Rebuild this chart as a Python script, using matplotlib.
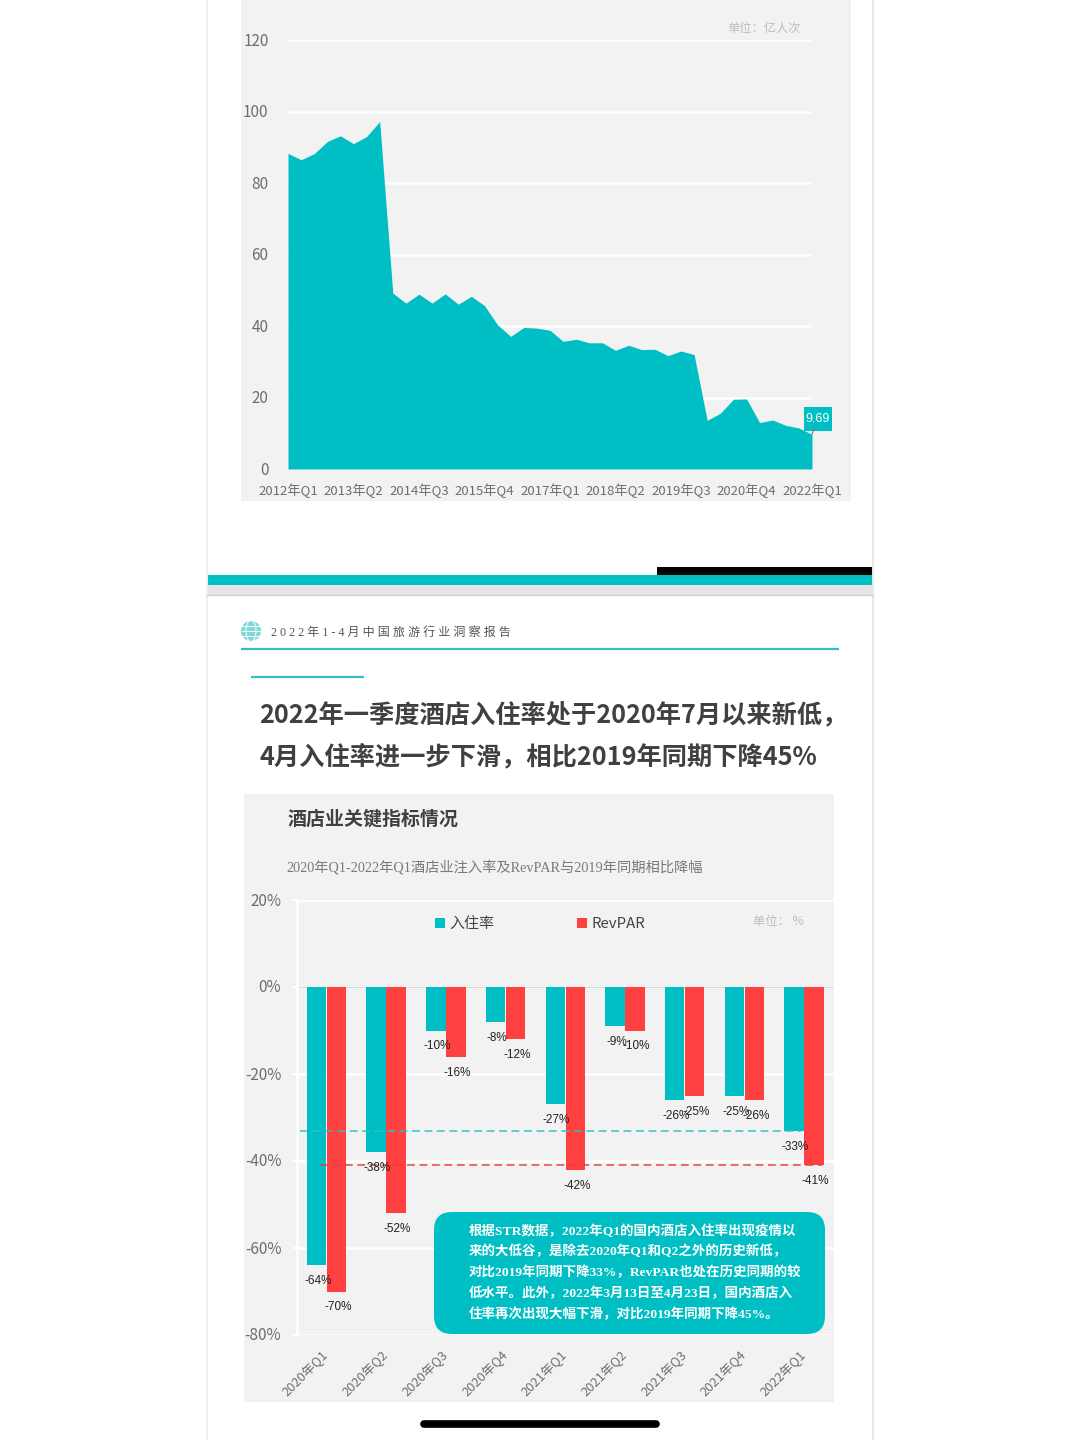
import matplotlib
matplotlib.use("Agg")
import matplotlib.pyplot as plt
from matplotlib.patches import Rectangle, FancyBboxPatch, Circle, Ellipse
from matplotlib.lines import Line2D
from matplotlib.transforms import ScaledTranslation

CJK = ["Noto Sans CJK SC", "DejaVu Sans"]
SERIF = ["Liberation Serif", "Noto Sans CJK SC"]
NARROW = ["Liberation Sans", "DejaVu Sans"]
plt.rcParams["font.family"] = CJK

TEAL = "#00bfc4"
RED = "#ff4040"
PANEL = "#f2f2f2"
GREY = "#6e6e6e"
DARK = "#404040"

# top chart: domestic trips, one value per quarter
years = [2012, 2013, 2014, 2015, 2016, 2017, 2018, 2019, 2020, 2021]
quarters = [f"{y}年Q{q}" for y in years for q in (1, 2, 3, 4)] + ["2022年Q1"]
trips = [88.3, 86.5, 88.2, 91.6, 93.2, 91.0, 93.0, 97.2, 49.2, 46.4, 48.9,
         46.4, 49.0, 46.1, 48.3, 45.7, 40.3, 37.1, 39.6, 39.4, 38.8, 35.7,
         36.3, 35.3, 35.3, 33.2, 34.6, 33.4, 33.5, 31.7, 33.0, 32.0, 13.6,
         15.6, 19.5, 19.6, 13.0, 13.7, 12.2, 11.5, 9.69]
trip_ticks = [0, 20, 40, 60, 80, 100, 120]

# bottom chart: hotel indicators against 2019
hotel_q = ["2020年Q1", "2020年Q2", "2020年Q3", "2020年Q4", "2021年Q1",
           "2021年Q2", "2021年Q3", "2021年Q4", "2022年Q1"]
occupancy = [-64, -38, -10, -8, -27, -9, -26, -25, -33]
revpar = [-70, -52, -16, -12, -42, -10, -25, -26, -41]
pct_ticks = [-80, -60, -40, -20, 0, 20]

callout_lines = [
    "根据STR数据，2022年Q1的国内酒店入住率出现疫情以",
    "来的大低谷，是除去2020年Q1和Q2之外的历史新低，",
    "对比2019年同期下降33%，RevPAR也处在历史同期的较",
    "低水平。此外，2022年3月13日至4月23日，国内酒店入",
    "住率再次出现大幅下滑，对比2019年同期下降45%。",
]


def px_axes(fig, left, top, right, bottom):
    # axes placed by picture pixels
    return fig.add_axes([left / 1080, 1 - bottom / 1440,
                         (right - left) / 1080, (bottom - top) / 1440])


fig = plt.figure(figsize=(10.8, 14.4), dpi=100, facecolor="white")
nudge_up = ScaledTranslation(0, 1 / 100, fig.dpi_scale_trans)

# page furniture, pixel coordinates
bg = fig.add_axes([0, 0, 1, 1], zorder=0)
bg.set_xlim(0, 1080)
bg.set_ylim(1440, 0)
bg.axis("off")
bg.add_line(Line2D([207, 207], [0, 1440], color="#efefef", lw=1.5))
bg.add_line(Line2D([873, 873], [0, 1440], color="#e8e8e8", lw=1.5))
bg.add_patch(Rectangle((241, 0), 610, 501, color=PANEL, lw=0))
bg.add_patch(Rectangle((207, 585), 666, 10, color="#e6e6e6", lw=0))
bg.add_line(Line2D([207, 873], [595, 595], color="#cfcfcf", lw=1))
bg.add_patch(Rectangle((207, 575), 666, 10, color=TEAL, lw=0))
bg.add_patch(Rectangle((657, 567), 216, 8, color="black", lw=0))
bg.add_patch(Rectangle((244, 794), 590, 608, color=PANEL, lw=0))
bg.add_line(Line2D([241, 839], [649, 649], color="#36bfc2", lw=1.6,
                   solid_capstyle="butt"))
bg.add_line(Line2D([251, 364], [677, 677], color="#36bfc2", lw=1.6,
                   solid_capstyle="butt"))
bg.add_line(Line2D([424, 656], [1423.5, 1423.5], color="black", lw=5.5,
                   solid_capstyle="round"))

# small globe in the header
bg.add_patch(Circle((251, 631), 10.5, color="#7fd8da", lw=0))
for w in (10.5, 5):
    bg.add_patch(Ellipse((251, 631), w * 2, 21, fill=False, ec="white", lw=0.7))
for dy in (-5, 0, 5):
    bg.add_line(Line2D([241.5, 260.5], [631 + dy, 631 + dy], color="white", lw=0.7))

bg.text(271, 633, "2 0 2 2 年 1 - 4 月 中 国 旅 游 行 业 洞 察 报 告", fontsize=8.7,
        color="#555555", va="center", family=SERIF)
bg.text(259, 714.5, "2022年一季度酒店入住率处于2020年7月以来新低，", fontsize=18.2,
        fontweight="bold", color=DARK, va="center")
bg.text(259, 756.5, "4月入住率进一步下滑，相比2019年同期下降45%", fontsize=18.2,
        fontweight="bold", color=DARK, va="center")
bg.text(288, 819, "酒店业关键指标情况", fontsize=13.65, fontweight="bold",
        color=DARK, va="center")
bg.text(286, 867, "2020年Q1-2022年Q1酒店业注入率及RevPAR与2019年同期相比降幅",
        fontsize=10.3, color="#7a7a7a", va="center", family=SERIF)
bg.text(727, 28, "单位：亿人次", fontsize=8.8, color="#bdbdbd", va="center")
bg.text(753, 921, "单位： %", fontsize=8.8, color="#bdbdbd", va="center")

# top area chart
ax1 = px_axes(fig, 288, 40, 812, 469)
ax1.set_zorder(1)
ax1.patch.set_alpha(0)
xs = list(range(len(trips)))
ax1.fill_between(xs, trips, 0, color=TEAL, lw=0, zorder=3)
ax1.set_xlim(0, len(trips) - 1)
ax1.set_ylim(0, 120)
ax1.set_yticks(trip_ticks)
ax1.set_xticks(xs[::5])
ax1.set_xticklabels(quarters[::5])
ax1.tick_params(axis="y", length=0, pad=14, labelsize=11, labelcolor=GREY)
ax1.tick_params(axis="x", length=0, pad=10.5, labelsize=9.5, labelcolor=GREY)
ax1.grid(axis="y", color="white", lw=1.8, zorder=1)
ax1.set_axisbelow(True)
for s in ax1.spines.values():
    s.set_visible(False)
for lbl in ax1.get_yticklabels():
    lbl.set_transform(lbl.get_transform() + nudge_up)

# bottom bar chart
ax2 = px_axes(fig, 296.6, 900, 834, 1335)
ax2.set_zorder(1)
ax2.patch.set_alpha(0)
pos = list(range(len(hotel_q)))
off = 10 / 59.7
wid = 19.5 / 59.7
b1 = ax2.bar([p - off for p in pos], occupancy, wid, color=TEAL, zorder=3, label="入住率")
b2 = ax2.bar([p + off for p in pos], revpar, wid, color=RED, zorder=3, label="RevPAR")
ax2.set_xlim(-0.5, 8.5)
ax2.set_ylim(-80, 20)
ax2.set_yticks(pct_ticks)
ax2.set_yticklabels([f"{t}%" for t in pct_ticks])
ax2.set_xticks(pos)
ax2.set_xticklabels(hotel_q, rotation=45, ha="right", va="center",
                    rotation_mode="anchor")
ax2.tick_params(axis="y", length=3, width=1.5, color="white", pad=8,
                labelsize=11, labelcolor=GREY)
ax2.tick_params(axis="x", length=0, pad=13, labelsize=9.3, labelcolor=GREY)
ax2.grid(axis="y", color="white", lw=1.8, zorder=1)
ax2.set_axisbelow(True)
for side in ("top", "right", "bottom"):
    ax2.spines[side].set_visible(False)
ax2.spines["left"].set_color("white")
ax2.spines["left"].set_linewidth(1.8)
for lbl in ax2.get_yticklabels():
    lbl.set_transform(lbl.get_transform() + nudge_up)
ax2.axhline(0, color="#d9d9d9", lw=1, zorder=2)
ax2.plot([-0.44, 7.95], [occupancy[-1]] * 2, color="#30bfc0", lw=1.4, alpha=0.75,
         ls=(0, (4, 2.4)), zorder=4)
ax2.plot([-0.1, 8.3], [revpar[-1]] * 2, color="#e04040", lw=1.4, alpha=0.75,
         ls=(0, (4, 2.4)), zorder=4)

for bars, vals in ((b1, occupancy), (b2, revpar)):
    for bar, v in zip(bars, vals):
        ax2.annotate(f"{v}%", xy=(bar.get_x() + bar.get_width() / 2, v),
                     xytext=(1, -11.5), textcoords="offset points", ha="center",
                     va="center", fontsize=8.5, color="#222222", family=NARROW,
                     zorder=5)

ax2.legend(handles=[b1, b2], loc="center", bbox_to_anchor=(0.453, 0.945), ncol=2,
           frameon=False, fontsize=10.8, handlelength=0.67, handleheight=0.67,
           handletextpad=0.3, columnspacing=5.5, labelcolor="#444444",
           borderpad=0, borderaxespad=0)

# callout box and value tag sit over the charts
fg = fig.add_axes([0, 0, 1, 1], zorder=2)
fg.set_xlim(0, 1080)
fg.set_ylim(1440, 0)
fg.axis("off")
fg.add_patch(FancyBboxPatch((434 + 18, 1212 + 18), 391 - 36, 122 - 36,
                            boxstyle="round,pad=18", fc=TEAL, ec="none"))
for i, line in enumerate(callout_lines):
    fg.text(469, 1231 + i * 20.8, line, fontsize=9.7, fontweight="bold", color="white",
            va="center", family=SERIF)

fg.add_patch(Rectangle((804, 407), 28, 24, color=TEAL, lw=0, zorder=1))
fg.annotate(f"{trips[-1]}", xy=(xs[-1], trips[-1]), xycoords=ax1.transData,
            xytext=(818, 419), textcoords="data", ha="center", va="center",
            color="white", fontsize=9, family=NARROW, zorder=2,
            arrowprops=dict(arrowstyle="-", color="#777777", lw=0.8,
                            shrinkA=9, shrinkB=0))

fig.savefig("out.png", dpi=100)
